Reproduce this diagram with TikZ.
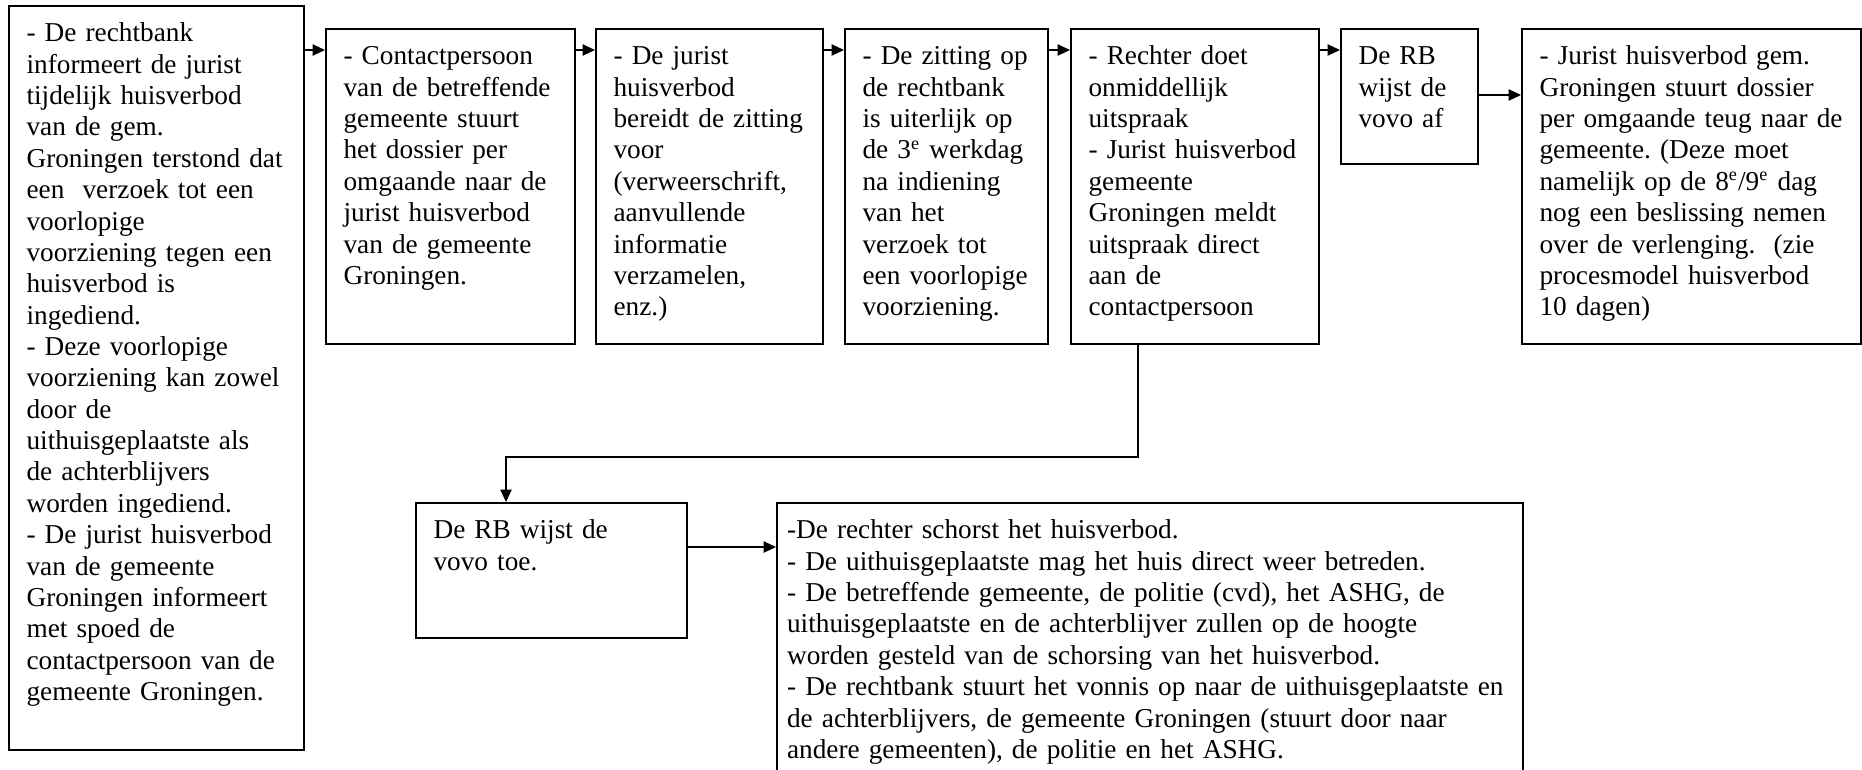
\documentclass[tikz,border=0pt]{standalone}
\usepackage{fontspec}
\setmainfont{Liberation Serif}
\usetikzlibrary{arrows.meta}
\frenchspacing

\begin{document}
\begin{tikzpicture}[x=0.44pt,y=-0.44pt,
		vak/.style={draw, line width=0.75pt, anchor=north west, align=left, inner xsep=7.8pt, inner ysep=0pt, text height=15.84pt, font=\fontsize{12pt}{13.8pt}\selectfont},
		pijl/.style={line width=0.6pt, -{Triangle[length=5.5pt,width=5pt]}}]
				\path[use as bounding box, fill=white] (0,0) rectangle (1862,769);
				\node[vak, text width=114.2pt, text depth=311.52pt] (b1) at (8,5) {- De rechtbank\\informeert de jurist\\tijdelijk huisverbod\\van de gem.\\Groningen terstond dat\\een \ verzoek tot een\\voorlopige\\voorziening tegen een\\huisverbod is\\ingediend.\\- Deze voorlopige\\voorziening kan zowel\\door de\\uithuisgeplaatste als\\de achterblijvers\\worden ingediend.\\- De jurist huisverbod\\van de gemeente\\Groningen informeert\\met spoed de\\contactpersoon van de\\gemeente Groningen.};
				\node[vak, text width=93.96pt, text depth=122.76pt] (b2) at (325,28) {- Contactpersoon\\van de betreffende\\gemeente stuurt\\het dossier per\\omgaande naar de\\jurist huisverbod\\van de gemeente\\Groningen.};
				\node[vak, text width=84.28pt, text depth=122.76pt] (b3) at (595,28) {- De jurist\\huisverbod\\bereidt de zitting\\voor\\(verweerschrift,\\aanvullende\\informatie\\verzamelen,\\enz.)};
				\node[vak, text width=73.72pt, text depth=122.76pt] (b4) at (844,28) {- De zitting op\\de rechtbank\\is uiterlijk op\\de 3\textsuperscript{e} werkdag\\na indiening\\van het\\verzoek tot\\een voorlopige\\voorziening.};
				\node[vak, text width=93.52pt, text depth=122.76pt] (b5) at (1070,28) {- Rechter doet\\onmiddellijk\\uitspraak\\- Jurist huisverbod\\gemeente\\Groningen meldt\\uitspraak direct\\aan de\\contactpersoon};
				\node[vak, text width=44.68pt, text depth=43.56pt] (b6) at (1340,28) {De RB\\wijst de\\vovo af};
				\node[vak, text width=133.56pt, text depth=122.76pt] (b7) at (1521,28) {- Jurist huisverbod gem.\\Groningen stuurt dossier\\per omgaande teug naar de\\gemeente. (Deze moet\\namelijk op de 8\textsuperscript{e}/9\textsuperscript{e} dag\\nog een beslissing nemen\\over de verlenging. \ (zie\\procesmodel huisverbod\\10 dagen)};
				\node[vak, text width=103.64pt, text depth=43.56pt] (b8) at (415,502) {De RB wijst de\\vovo toe.};
				\node[vak, inner xsep=4.5pt, text width=319.24pt, text depth=124.96pt] (b9) at (776,502) {-De rechter schorst het huisverbod.\\- De uithuisgeplaatste mag het huis direct weer betreden.\\- De betreffende gemeente, de politie (cvd), het ASHG, de\\uithuisgeplaatste en de achterblijver zullen op de hoogte\\worden gesteld van de schorsing van het huisverbod.\\- De rechtbank stuurt het vonnis op naar de uithuisgeplaatste en\\de achterblijvers, de gemeente Groningen (stuurt door naar\\andere gemeenten), de politie en het ASHG.};
				\coordinate (rij1) at (0,50);
				\coordinate (rij2) at (0,95);
				\coordinate (rij3) at (0,547);
				\coordinate (knik1) at (1138,457);
				\coordinate (knik2) at (506,457);
				\draw[pijl] (b1.east |- rij1) -- (b2.west |- rij1);
				\draw[pijl] (b2.east |- rij1) -- (b3.west |- rij1);
				\draw[pijl] (b3.east |- rij1) -- (b4.west |- rij1);
				\draw[pijl] (b4.east |- rij1) -- (b5.west |- rij1);
				\draw[pijl] (b5.east |- rij1) -- (b6.west |- rij1);
				\draw[pijl] (b6.east |- rij2) -- (b7.west |- rij2);
				\draw[pijl] (b5.south -| knik1) -- (knik1) -- (knik2) -- (b8.north -| knik2);
				\draw[pijl] (b8.east |- rij3) -- (b9.west |- rij3);
\end{tikzpicture}
\end{document}
